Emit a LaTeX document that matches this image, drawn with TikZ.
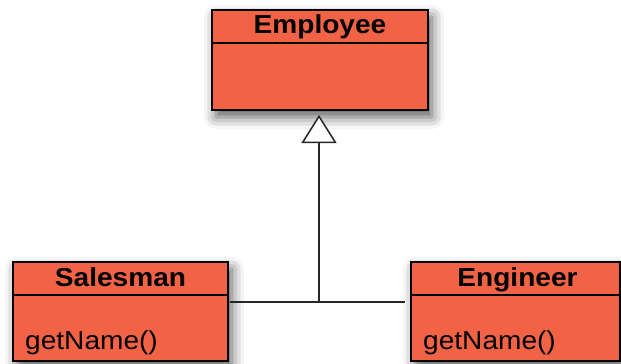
\documentclass[tikz,border=0pt]{standalone}
\usepackage{fontspec}
\setmainfont{Liberation Sans}
\usepackage{graphicx}
\usetikzlibrary{arrows.meta,shadows.blur}
\definecolor{umlfill}{RGB}{242,99,69}
\tikzset{
  classbox/.style={draw=black, line width=1.5pt, fill=umlfill, anchor=north west,
    inner sep=0pt, outer sep=0pt,
    blur shadow={shadow xshift=4pt, shadow yshift=-7pt, shadow blur radius=12pt, shadow opacity=65}},
  sepline/.style={draw=black, line width=1.5pt},
  classname/.style={anchor=base, inner sep=0pt, font=\fontsize{26}{30}\selectfont\bfseries},
  member/.style={anchor=base west, inner sep=0pt, font=\fontsize{26}{30}\selectfont},
  conn/.style={draw=black!85, line width=1.5pt},
}
\newcommand{\wide}[1]{\scalebox{1.08}[1]{#1}}
\begin{document}
\begin{tikzpicture}[x=1pt,y=-1pt]
\useasboundingbox (0,0) rectangle (621,364);
% Employee
\node[classbox, minimum width=216pt, minimum height=100pt] (emp) at (212,10) {};
\draw[sepline] (212,43) -- (428,43);
\node[classname] (empname) at (320,33) {\wide{Employee}};
% Salesman
\node[classbox, minimum width=215pt, minimum height=99pt] (sal) at (13,262) {};
\draw[sepline] (13,295) -- (228,295);
\node[classname] (salname) at (120.5,286) {\wide{Salesman}};
\node[member] (salop) at (25,349) {\wide{getName()}};
% Engineer
\node[classbox, minimum width=209pt, minimum height=99pt] (eng) at (411,262) {};
\draw[sepline] (411,295) -- (620,295);
\node[classname] (engname) at (517.5,286) {\wide{Engineer}};
\node[member] (engop) at (423,349) {\wide{getName()}};
% connectors
\coordinate (junc) at (319,302);
\draw[conn, shorten <=2pt, shorten >=6pt] (sal.east |- junc) -- (eng.west |- junc);
\draw[conn, -{Triangle[open, length=28pt, width=35pt, line width=1.5pt, fill=white]}, shorten >=5pt] (junc) -- (junc |- emp.south);
\end{tikzpicture}
\end{document}
